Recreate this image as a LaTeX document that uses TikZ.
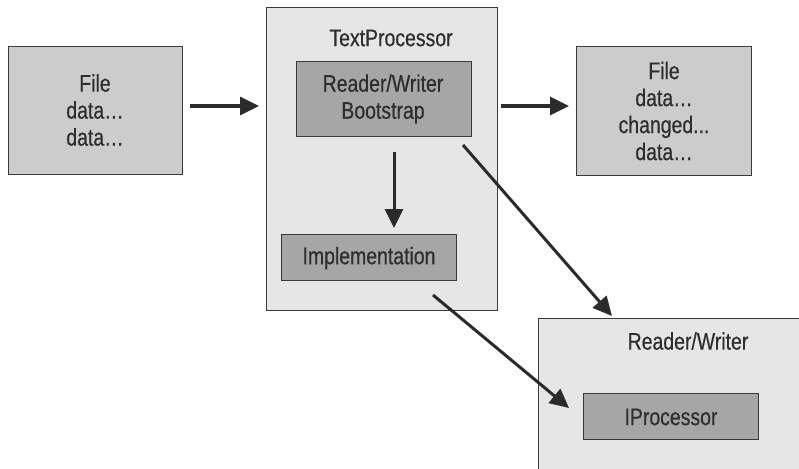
\documentclass[tikz,border=0pt]{standalone}
\usepackage{fontspec}
\setmainfont{Liberation Sans}[FakeStretch=0.81,FakeBold=0.5]
\usetikzlibrary{arrows.meta}
\definecolor{txt}{HTML}{2E2E2E}
\definecolor{edge}{HTML}{3A3A3A}
\definecolor{outerfill}{HTML}{E6E6E6}
\definecolor{filefill}{HTML}{CCCCCC}
\definecolor{innerfill}{HTML}{A6A6A6}
\definecolor{arr}{HTML}{2B2B2B}
\tikzset{
  box/.style={draw=edge, line width=1.2pt, anchor=north west, inner sep=0pt},
  outerbox/.style={box, fill=outerfill},
  filebox/.style={box, fill=filefill},
  innerbox/.style={box, fill=innerfill},
  lbl/.style={text=txt, font=\fontsize{24}{27}\selectfont, align=center, inner sep=0pt},
  conn/.style={draw=arr, line width=3pt, -{Triangle[length=19pt,width=18pt]}, shorten >=0pt}
}
\begin{document}
\begin{tikzpicture}[x=1pt,y=-1pt]
\useasboundingbox (0,0) rectangle (799,468);
\begin{scope}
\clip (0,0) rectangle (799,468);
% boxes
\node[filebox, minimum width=174pt, minimum height=128pt] (fin) at (8,46) {};
\node[outerbox, minimum width=231pt, minimum height=303pt] (tp) at (266,7) {};
\node[innerbox, minimum width=175pt, minimum height=75pt] (rwb) at (296,61) {};
\node[innerbox, minimum width=175pt, minimum height=46pt] (impl) at (281,234) {};
\node[filebox, minimum width=175pt, minimum height=129pt] (fout) at (576,46) {};
\node[outerbox, minimum width=280pt, minimum height=170pt] (rw) at (538,318) {};
\node[innerbox, minimum width=175pt, minimum height=46pt] (ip) at (583,393) {};
% labels
\node[lbl] (tfin) at (95,110) {File\\data\ldots\\data\ldots};
\node[lbl] (ttp) at (391,38) {TextProcessor};
\node[lbl] (trwb) at (383,99) {Reader/Writer\\Bootstrap};
\node[lbl] (timpl) at (369,258) {Implementation};
\node[lbl] (tfout) at (664,111) {File\\data\ldots\\changed...\\data\ldots};
\node[lbl] (trw) at (688,341) {Reader/Writer};
\node[lbl] (tip) at (671,417) {IProcessor};
% connector anchors
\coordinate (a1s) at (190,106);
\coordinate (a1e) at (259,106);
\coordinate (a2s) at (394,152);
\coordinate (a2e) at (394,228);
\coordinate (a3s) at (501,106);
\coordinate (a3e) at (569,106);
\coordinate (a4s) at (463,145);
\coordinate (a4e) at (612,316);
\coordinate (a5s) at (433,295);
\coordinate (a5e) at (569,408);
\draw[conn] (a1s) -- (a1e);
\draw[conn] (a2s) -- (a2e);
\draw[conn] (a3s) -- (a3e);
\draw[conn] (a4s) -- (a4e);
\draw[conn] (a5s) -- (a5e);
\end{scope}
\end{tikzpicture}
\end{document}
